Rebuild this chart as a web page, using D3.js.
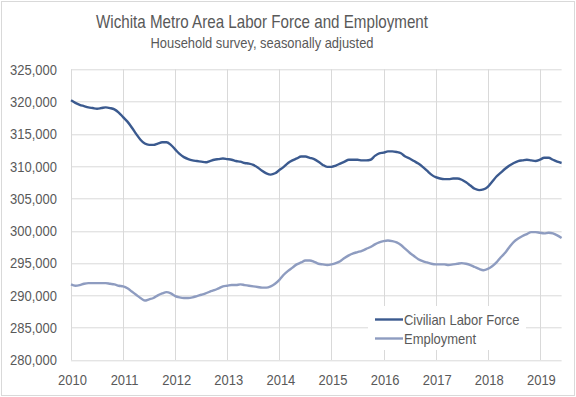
<!DOCTYPE html>
<html>
<head>
<meta charset="utf-8">
<script src="https://cdn.jsdelivr.net/npm/d3@7"></script>
<style>
  html, body { margin: 0; padding: 0; background: #fff; }
  svg text { font-family: 'Liberation Sans', Arial, sans-serif; fill: #595959; }
</style>
</head>
<body>
<svg id="chart" width="576" height="397"></svg>
<script>
// monthly, Jan 2010 .. Jun 2019 (thousands)
const startYear = 2010;
const laborForce = [
  320.2, 319.8, 319.5, 319.3, 319.1, 319.0, 318.9, 319.0, 319.1, 319.0, 318.8, 318.3,
  317.6, 316.9, 316.0, 315.0, 314.1, 313.5, 313.3, 313.3, 313.5, 313.7, 313.7, 313.3,
  312.6, 311.9, 311.4, 311.1, 310.9, 310.8, 310.7, 310.6, 310.8, 311.0, 311.1, 311.2,
  311.1, 311.0, 310.8, 310.7, 310.5, 310.4, 310.2, 309.8, 309.3, 308.9, 308.7, 308.9,
  309.4, 309.9, 310.5, 310.9, 311.2, 311.5, 311.5, 311.3, 311.1, 310.7, 310.2, 309.9,
  309.9, 310.1, 310.4, 310.7, 311.0, 311.0, 311.0, 310.9, 310.9, 311.0, 311.6, 312.0,
  312.1, 312.3, 312.3, 312.2, 312.0, 311.5, 311.2, 310.8, 310.4, 309.9, 309.3, 308.7,
  308.3, 308.1, 308.0, 308.0, 308.1, 308.1, 307.9, 307.5, 307.0, 306.5, 306.3, 306.4,
  306.8, 307.6, 308.4, 309.0, 309.6, 310.1, 310.5, 310.8, 310.9, 311.0, 310.9, 310.8,
  311.0, 311.3, 311.3, 311.0, 310.7, 310.5
];
const employment = [
  291.7, 291.5, 291.6, 291.8, 291.9, 291.9, 291.9, 291.9, 291.9, 291.8, 291.7, 291.5,
  291.4, 291.1, 290.6, 290.1, 289.6, 289.2, 289.4, 289.6, 290.0, 290.3, 290.5, 290.3,
  289.9, 289.7, 289.6, 289.6, 289.7, 289.9, 290.1, 290.3, 290.6, 290.8, 291.1, 291.4,
  291.5, 291.6, 291.6, 291.7, 291.6, 291.5, 291.4, 291.3, 291.2, 291.2, 291.4, 291.8,
  292.4, 293.2, 293.8, 294.3, 294.8, 295.1, 295.4, 295.4, 295.2, 294.9, 294.8, 294.7,
  294.8, 295.0, 295.3, 295.8, 296.2, 296.5, 296.7, 296.9, 297.2, 297.5, 297.9, 298.2,
  298.4, 298.5, 298.4, 298.2, 297.8, 297.2, 296.6, 296.1, 295.6, 295.3, 295.1, 294.9,
  294.8, 294.8, 294.8, 294.7, 294.8, 294.9, 295.0, 294.9, 294.7, 294.4, 294.1, 293.9,
  294.1, 294.5, 295.1, 295.9, 296.6, 297.5, 298.3, 298.8, 299.2, 299.5, 299.8, 299.8,
  299.7, 299.6, 299.7, 299.6, 299.3, 298.9
];
const yearTicks = [2010, 2011, 2012, 2013, 2014, 2015, 2016, 2017, 2018, 2019];
const valueTicks = [280000, 285000, 290000, 295000, 300000, 305000, 310000, 315000, 320000, 325000];
const seriesNames = ['Civilian Labor Force', 'Employment'];
const seriesColors = ['#3b5a8f', '#8e9cc0'];

const svg = d3.select('#chart');
const W = 576, H = 397;
const margin = { top: 69.3, right: 14.4, bottom: 37, left: 71 };
const width = W - margin.left - margin.right;
const height = H - margin.top - margin.bottom;

// squeeze text horizontally to mimic the narrow font of the original
function narrow(sel, k) {
  sel.each(function() {
    const len = this.getComputedTextLength();
    d3.select(this).attr('textLength', len * k).attr('lengthAdjust', 'spacingAndGlyphs');
  });
}

// outer chart border
svg.append('rect')
  .attr('x', 1.5).attr('y', 1.5).attr('width', W - 3).attr('height', H - 3)
  .attr('fill', '#fff').attr('stroke', '#d9d9d9').attr('stroke-width', 1);

// titles
svg.append('text').attr('x', 262).attr('y', 28)
  .attr('text-anchor', 'middle').style('font-size', '19px')
  .attr('textLength', 332).attr('lengthAdjust', 'spacingAndGlyphs')
  .text('Wichita Metro Area Labor Force and Employment');
svg.append('text').attr('x', 262).attr('y', 48)
  .attr('text-anchor', 'middle').style('font-size', '14.5px')
  .attr('textLength', 223).attr('lengthAdjust', 'spacingAndGlyphs')
  .text('Household survey, seasonally adjusted');

const g = svg.append('g').attr('transform', 'translate(' + margin.left + ',' + margin.top + ')');

const x = d3.scaleLinear()
  .domain([startYear, startYear + (laborForce.length - 1) / 12])
  .range([0, width]);
const y = d3.scaleLinear().domain([280000, 325000]).range([height, 0]);

// gridlines
g.append('g').attr('class', 'grid-y')
  .selectAll('line').data(valueTicks).enter().append('line')
  .attr('x1', 0).attr('x2', width)
  .attr('y1', d => Math.round(y(d)) + 0.5).attr('y2', d => Math.round(y(d)) + 0.5)
  .attr('stroke', '#d9d9d9').attr('stroke-width', 1);
g.append('g').attr('class', 'grid-x')
  .selectAll('line').data(yearTicks).enter().append('line')
  .attr('x1', d => Math.round(x(d)) + 0.5).attr('x2', d => Math.round(x(d)) + 0.5)
  .attr('y1', 0).attr('y2', height)
  .attr('stroke', '#d9d9d9').attr('stroke-width', 1);

// axes (labels only)
const xAxis = d3.axisBottom(x).tickValues(yearTicks).tickFormat(d3.format('d')).tickSize(0).tickPadding(14);
const yAxis = d3.axisLeft(y).tickValues(valueTicks).tickFormat(d3.format(',')).tickSize(0).tickPadding(14);
const gx = g.append('g').attr('transform', 'translate(1,' + height + ')').call(xAxis);
const gy = g.append('g').call(yAxis);
[gx, gy].forEach(a => {
  a.select('.domain').remove();
  a.selectAll('text').style('font-size', '15px').attr('fill', '#595959').call(narrow, 0.865);
});

// lines
const line = d3.line()
  .x((d, i) => x(startYear + i / 12))
  .y(d => y(d * 1000))
  .curve(d3.curveMonotoneX);

[employment, laborForce].forEach((s, k) => {
  g.append('path').datum(s)
    .attr('fill', 'none')
    .attr('stroke', seriesColors[1 - k])
    .attr('stroke-width', 2.4)
    .attr('stroke-linejoin', 'round')
    .attr('d', line);
});

// legend
const lg = svg.append('g').attr('transform', 'translate(368,306)');
lg.append('rect').attr('x', 0).attr('y', 0).attr('width', 158).attr('height', 44).attr('fill', '#fff');
seriesNames.forEach((name, i) => {
  const yy = 13.5 + i * 19;
  lg.append('line').attr('x1', 7).attr('x2', 35).attr('y1', yy).attr('y2', yy)
    .attr('stroke', seriesColors[i]).attr('stroke-width', 2.4);
  lg.append('text').attr('x', 36).attr('y', yy + 5.5).style('font-size', '15px').text(name)
    .call(narrow, 0.865);
});
</script>
</body>
</html>
